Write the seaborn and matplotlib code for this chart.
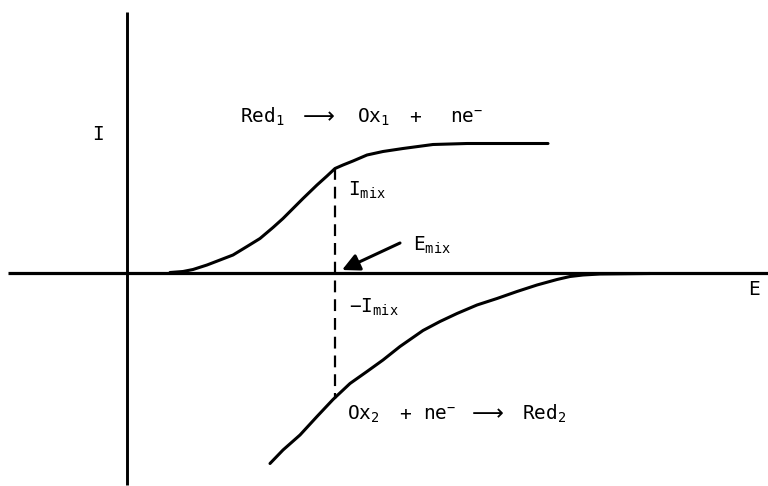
import numpy as np
import pandas as pd
import matplotlib
matplotlib.use("Agg")
import matplotlib.pyplot as plt
import seaborn as sns

# Anodic branch: Red1 -> Ox1 + ne-  (potential E, current I, arbitrary units)
e_anodic = [0.43, 0.56, 0.66, 0.80, 0.93, 1.06, 1.20, 1.33, 1.46, 1.56, 1.66, 1.76,
            1.90, 2.00, 2.08, 2.16, 2.26, 2.40, 2.56, 2.76, 3.06, 3.40, 3.73, 4.21]
i_anodic = [0.00, 0.01, 0.03, 0.075, 0.125, 0.175, 0.26, 0.34, 0.45, 0.54, 0.64, 0.74,
            0.875, 0.965, 1.04, 1.075, 1.115, 1.175, 1.21, 1.24, 1.28, 1.29, 1.29, 1.29]

# Cathodic branch: Ox2 + ne- -> Red2
e_cathodic = [1.43, 1.56, 1.73, 1.90, 2.06, 2.23, 2.40, 2.56, 2.73, 2.96, 3.13, 3.30,
              3.50, 3.70, 3.90, 4.10, 4.30, 4.43, 4.56, 4.73, 5.23]
i_cathodic = [-1.91, -1.775, -1.625, -1.44, -1.27, -1.11, -0.99, -0.875, -0.74, -0.58,
              -0.49, -0.41, -0.325, -0.26, -0.19, -0.125, -0.07, -0.04, -0.025, -0.015, -0.01]

# Mixed potential and the currents of the two branches there
e_mix = 2.08
i_mix_top = 1.04
i_mix_bottom = -1.26

anodic = pd.DataFrame({"E": e_anodic, "I": i_anodic})
cathodic = pd.DataFrame({"E": e_cathodic, "I": i_cathodic})

sns.set_style("white")
plt.rcParams["font.family"] = ["DejaVu Sans Mono", "DejaVu Sans"]
plt.rcParams["text.color"] = "black"
plt.rcParams["mathtext.fontset"] = "custom"
plt.rcParams["mathtext.rm"] = "DejaVu Sans Mono"
plt.rcParams["mathtext.it"] = "DejaVu Sans Mono"
plt.rcParams["mathtext.default"] = "rm"
plt.rcParams["lines.scale_dashes"] = False

fig = plt.figure(figsize=(7.68, 4.86), dpi=100)
ax = fig.add_axes([0, 0, 1, 1])
ax.set_xlim(-1.27, 6.41)
ax.set_ylim(-2.135, 2.725)
ax.axis("off")

ink = "black"

# Coordinate axes
ax.plot([-1.19, 6.41], [0, 0], color=ink, lw=2.3, solid_capstyle="butt")
ax.plot([0, 0], [-2.12, 2.605], color=ink, lw=2.1, solid_capstyle="butt")

# Current-potential curves
sns.lineplot(data=anodic, x="E", y="I", ax=ax, color=ink, lw=2.2, sort=False,
             estimator=None)
sns.lineplot(data=cathodic, x="E", y="I", ax=ax, color=ink, lw=2.2, sort=False,
             estimator=None)
for line in ax.lines:
    line.set_solid_joinstyle("round")

# Dashed line at the mixed potential
ax.plot([e_mix, e_mix], [i_mix_top, i_mix_bottom], color=ink, lw=1.6,
        linestyle=(0, (8.5, 5.0)))

# Arrow pointing at E_mix
ax.annotate("", xy=(2.15, 0.025), xytext=(2.73, 0.295),
            arrowprops=dict(arrowstyle="-|>", color=ink, lw=2.2,
                            mutation_scale=26, shrinkA=0, shrinkB=0))

fs = 14
# Axis labels
ax.text(-0.29, 1.325, "I", fontsize=fs, ha="center", va="baseline")
ax.text(6.21, -0.225, "E", fontsize=fs, ha="left", va="baseline")

# Upper reaction
ax.text(1.13, 1.495, r"$\mathrm{Red_1}$", fontsize=fs, va="baseline")
ax.text(1.76, 1.495, "\u27f6", fontsize=fs + 2, va="baseline",
        family=["DejaVu Sans"])
ax.text(2.30, 1.495, r"$\mathrm{Ox_1}$", fontsize=fs, va="baseline")
ax.text(2.88, 1.495, "+", fontsize=fs, ha="center", va="baseline")
ax.text(3.23, 1.495, r"$\mathrm{ne^{-}}$", fontsize=fs, va="baseline")

# Lower reaction
ax.text(2.20, -1.475, r"$\mathrm{Ox_2}$", fontsize=fs, va="baseline")
ax.text(2.78, -1.475, "+", fontsize=fs, ha="center", va="baseline")
ax.text(2.96, -1.475, r"$\mathrm{ne^{-}}$", fontsize=fs, va="baseline")
ax.text(3.45, -1.475, "\u27f6", fontsize=fs + 2, va="baseline",
        family=["DejaVu Sans"])
ax.text(3.95, -1.475, r"$\mathrm{Red_2}$", fontsize=fs, va="baseline")

# Mixed-potential labels
ax.text(2.21, 0.765, r"$\mathrm{I_{mix}}$", fontsize=fs, va="baseline")
ax.text(2.86, 0.215, r"$\mathrm{E_{mix}}$", fontsize=fs, va="baseline")
ax.text(2.22, -0.405, r"$\mathrm{-I_{mix}}$", fontsize=fs, va="baseline")

fig.savefig("out.png", dpi=100, facecolor="white")
